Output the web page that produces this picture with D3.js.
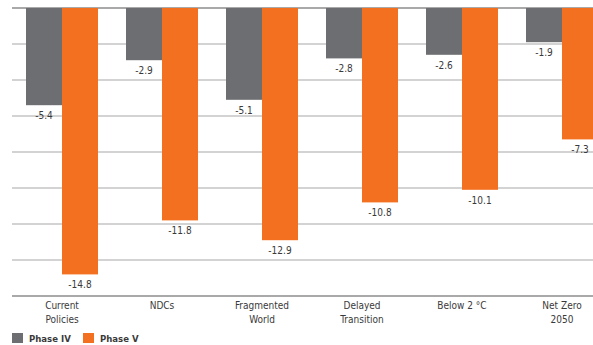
<!DOCTYPE html>
<html>
<head>
<meta charset="utf-8">
<script src="https://cdn.jsdelivr.net/npm/d3@7"></script>
<style>
  body { margin: 0; background: #fff; }
  svg text { font-family: "DejaVu Sans Condensed", "DejaVu Sans", sans-serif; font-stretch: condensed; fill: #3a3a3a; }
</style>
</head>
<body>
<div id="chart"></div>
<script>
const scenarios = [["Current", "Policies"], ["NDCs"], ["Fragmented", "World"], ["Delayed", "Transition"], ["Below 2 °C"], ["Net Zero", "2050"]];
const phaseIV = [-5.4, -2.9, -5.1, -2.8, -2.6, -1.9];
const phaseV = [-14.8, -11.8, -12.9, -10.8, -10.1, -7.3];
const yTicks = [0, -2, -4, -6, -8, -10, -12, -14, -16];
const seriesNames = ["Phase IV", "Phase V"];
const colors = ["#6d6e71", "#f37021"];

let width = 593, height = 345;
const svg = d3.select("#chart").append("svg")
    .attr("width", width)
    .attr("height", height);

const x = d3.scaleBand()
    .domain(d3.range(scenarios.length))
    .range([12, 612])
    .paddingInner(0.28)
    .paddingOuter(0.14);

const sub = d3.scaleBand()
    .domain([0, 1])
    .range([0, x.bandwidth()]);

const y = d3.scaleLinear()
    .domain([0, -16])
    .range([8, 296]);

// gridlines
svg.append("g")
    .selectAll("line")
    .data(yTicks)
    .enter().append("line")
    .attr("x1", 12)
    .attr("x2", width)
    .attr("y1", d => y(d))
    .attr("y2", d => y(d))
    .style("stroke", d => (d === 0 || d === -16) ? "#8c8c8c" : "#c4c4c4")
    .style("stroke-width", d => d === 0 ? 1.6 : 1.3);

// bars
const series = [phaseIV, phaseV];
series.forEach(function(vals, s) {
    const g = svg.append("g").attr("class", "series-" + s);
    g.selectAll("rect")
        .data(vals)
        .enter().append("rect")
        .attr("x", (d, i) => x(i) + sub(s))
        .attr("width", sub.bandwidth())
        .attr("y", y(0))
        .attr("height", d => y(d) - y(0))
        .style("fill", colors[s]);

    g.selectAll("text")
        .data(vals)
        .enter().append("text")
        .attr("x", (d, i) => x(i) + sub(s) + sub.bandwidth() / 2)
        .attr("y", d => y(d) + 14)
        .attr("text-anchor", "middle")
        .style("font-size", "10px")
        .text(d => d.toFixed(1));
});

// category labels
const cats = svg.append("g")
    .selectAll("text")
    .data(scenarios)
    .enter().append("text")
    .attr("x", (d, i) => x(i) + x.bandwidth() / 2)
    .attr("y", 309)
    .attr("text-anchor", "middle")
    .style("font-size", "10px");
cats.selectAll("tspan")
    .data(d => d)
    .enter().append("tspan")
    .attr("x", function() { return d3.select(this.parentNode).attr("x"); })
    .attr("dy", (d, i) => i === 0 ? 0 : 14)
    .text(d => d);

// legend
const legend = svg.append("g")
    .selectAll("g")
    .data(seriesNames)
    .enter().append("g")
    .attr("transform", (d, i) => "translate(" + (12 + i * 71) + ",333)");
legend.append("rect")
    .attr("width", 11)
    .attr("height", 10)
    .style("fill", (d, i) => colors[i]);
legend.append("text")
    .attr("x", 17)
    .attr("y", 9)
    .style("font-size", "9.5px")
    .style("font-weight", "bold")
    .text(d => d);
</script>
</body>
</html>
